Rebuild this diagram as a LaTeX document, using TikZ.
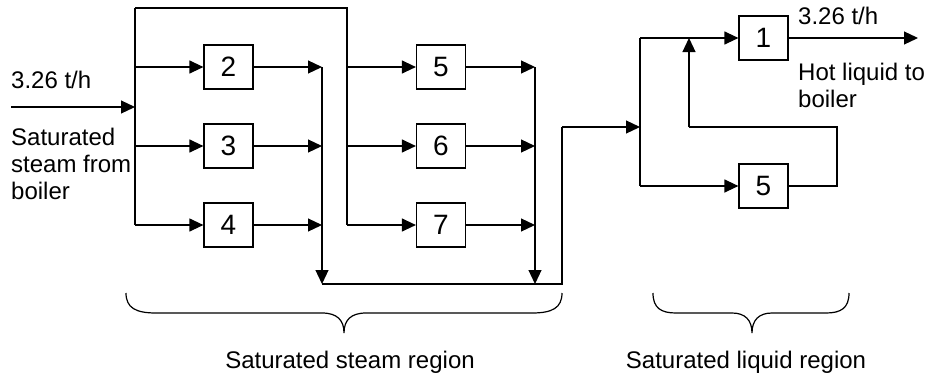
\documentclass[tikz,border=0pt]{standalone}
\usepackage{fontspec}
\setmainfont{Liberation Sans}
\usetikzlibrary{arrows.meta}

\tikzset{
  unit/.style={draw, line width=1.2pt, minimum width=49pt, minimum height=44pt,
    inner sep=0pt, font=\fontsize{28}{32}\selectfont},
  flow/.style={line width=1.2pt, -{Triangle[length=14pt,width=13pt]}},
  pipe/.style={line width=1.2pt},
  lbl/.style={font=\fontsize{24}{27}\selectfont, inner sep=0pt, align=left}
}

\begin{document}
\begin{tikzpicture}[x=1pt, y=-1pt]
		\useasboundingbox (0,0) rectangle (926,378);
		% saturated steam region
		\node [unit] (u2) at (228.5, 67) {2};
		\node [unit] (u3) at (228.5, 146) {3};
		\node [unit] (u4) at (228.5, 225) {4};
		\node [unit] (u5) at (441, 67) {5};
		\node [unit] (u6) at (441, 146) {6};
		\node [unit] (u7) at (441, 225) {7};
		\coordinate (feed) at (11, 107);
		\coordinate (busa) at (135, 107);
		\coordinate (busatop) at (135, 8);
		\coordinate (busbtop) at (347, 8);
		\coordinate (cola) at (322, 67);
		\coordinate (colb) at (535, 67);
		\coordinate (cola end) at (322, 284);
		\coordinate (colb end) at (535, 284);
		\coordinate (riser) at (562, 284);
		\draw [flow] (feed) -- (busa);
		\draw [pipe] (busatop) -- (busa |- u4) (busatop) -- (busbtop) -- (busbtop |- u7);
		\foreach \u in {u2, u3, u4} {
			\draw [flow] (busa |- \u) -- (\u);
			\draw [flow] (\u) -- (cola |- \u);
		}
		\foreach \u in {u5, u6, u7} {
			\draw [flow] (busbtop |- \u) -- (\u);
			\draw [flow] (\u) -- (colb |- \u);
		}
		\draw [flow] (cola) -- (cola end);
		\draw [flow] (colb) -- (colb end);
		% saturated liquid region
		\node [unit] (u1) at (763.5, 38) {1};
		\node [unit] (u5b) at (763.5, 186) {5};
		\coordinate (busc) at (640, 127);
		\coordinate (product) at (918, 38);
		\coordinate (loop) at (837, 127);
		\coordinate (loopin) at (689, 38);
		\draw [pipe] (cola end) -- (riser) -- (riser |- busc);
		\draw [flow] (riser |- busc) -- (busc);
		\draw [pipe] (busc |- u1) -- (busc |- u5b);
		\draw [flow] (busc |- u1) -- (u1);
		\draw [flow] (busc |- u5b) -- (u5b);
		\draw [flow] (u1) -- (product);
		\draw [pipe] (u5b) -- (loop |- u5b) -- (loop) -- (loopin |- loop);
		\draw [flow] (loopin |- loop) -- (loopin);
		% labels
		\node [lbl, anchor=base west] (feedrate) at (11, 88) {3.26 t/h};
		\node [lbl, anchor=base west] (feedname) at (11, 199) {Saturated\\steam from\\boiler};
		\node [lbl, anchor=base west] (prodrate) at (798, 24) {3.26 t/h};
		\node [lbl, anchor=base west] (prodname) at (798, 107) {Hot liquid to\\boiler};
		% braces
		\draw [pipe] (126, 293) .. controls (126, 308) and (136, 313) .. (156, 313) -- (322, 313)
			.. controls (337, 313) and (344, 320) .. (344, 333)
			.. controls (344, 320) and (351, 313) .. (366, 313) -- (532, 313)
			.. controls (552, 313) and (562, 308) .. (562, 293);
		\draw [pipe] (653, 293) .. controls (653, 308) and (661, 313) .. (676, 313) -- (732, 313)
			.. controls (745, 313) and (752, 320) .. (752, 333)
			.. controls (752, 320) and (759, 313) .. (772, 313) -- (826, 313)
			.. controls (841, 313) and (849, 308) .. (849, 293);
		\node [lbl, anchor=base] (steamregion) at (350, 368) {Saturated steam region};
		\node [lbl, anchor=base] (liquidregion) at (746, 368) {Saturated liquid region};
	\end{tikzpicture}
\end{document}
